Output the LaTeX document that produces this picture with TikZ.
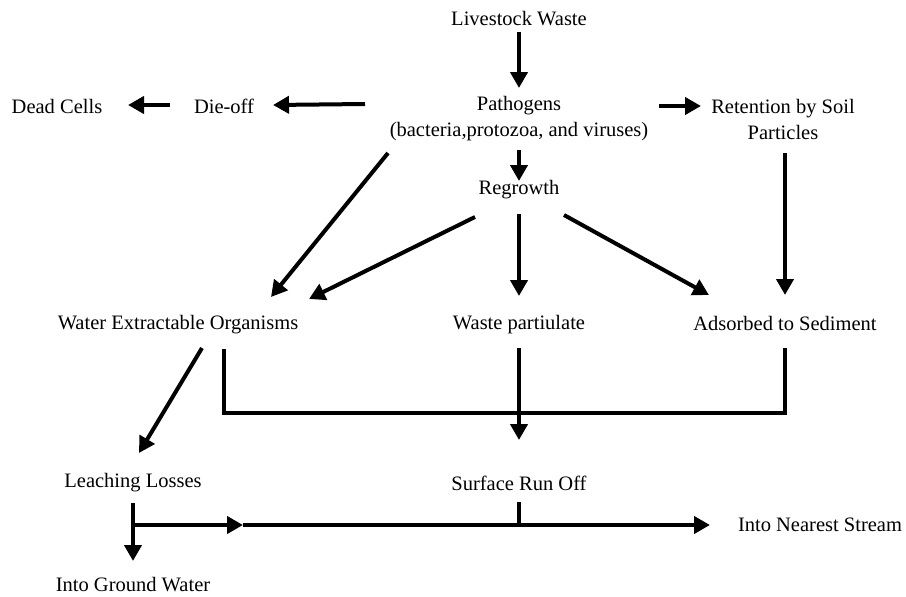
\documentclass[tikz,border=0pt]{standalone}
\usepackage{fontspec}
\setmainfont{Liberation Serif}
\usetikzlibrary{arrows.meta,calc}
\tikzset{
  lbl/.style={inner sep=0pt, font=\fontsize{20.5}{26}\selectfont, align=center},
  arr/.style={line width=4pt, -{Triangle[length=16pt,width=17pt]}},
  ln/.style={line width=4pt},
}
\begin{document}
\begin{tikzpicture}[x=1pt,y=-1pt]
\useasboundingbox (0,0) rectangle (906,597);
\node[lbl] (lw) at (519,19) {Livestock Waste};
\node[lbl] (path) at (519,119) {Pathogens\\(bacteria,protozoa, and viruses)};
\node[lbl] (ret) at (783,119) {Retention by Soil\\Particles};
\node[lbl] (dieoff) at (224,106) {Die-off};
\node[lbl] (dead) at (57,106) {Dead Cells};
\node[lbl] (regrowth) at (519,190) {Regrowth};
\node[lbl] (weo) at (178,325) {Water Extractable Organisms};
\node[lbl] (waste) at (519,325) {Waste partiulate};
\node[lbl] (ads) at (785,323) {Adsorbed to Sediment};
\node[lbl] (leach) at (133,483) {Leaching Losses};
\node[lbl] (sro) at (519,483) {Surface Run Off};
\node[lbl] (stream) at (820,525) {Into Nearest Stream};
\node[lbl] (ground) at (133,585) {Into Ground Water};

\draw[arr] ($(lw)+(0,13)$) -- ($(path)+(0,-31)$);
\draw[arr] ($(path)+(140,-13)$) -- ($(ret)+(-82,-13)$);
\draw[arr] ($(path)+(-154,-15)$) -- ($(dieoff)+(49,-1)$);
\draw[arr] ($(dieoff)+(-54,-1)$) -- ($(dead)+(71,-1)$);
\draw[arr] ($(path)+(0,31)$) -- ($(regrowth)+(0,-9)$);
\draw[arr] ($(path)+(-131,34)$) -- ($(weo)+(93,-28)$);
\draw[arr] ($(regrowth)+(-44,27)$) -- ($(weo)+(131,-26)$);
\draw[arr] ($(regrowth)+(0,24)$) -- ($(waste)+(0,-29)$);
\draw[arr] ($(regrowth)+(45,25)$) -- ($(ads)+(-76,-28)$);
\draw[arr] ($(ret)+(2,34)$) -- ($(ads)+(0,-28)$);
\draw[arr] ($(weo)+(24,23)$) -- ($(leach)+(6,-30)$);
\draw[ln] ($(weo)+(46,24)$) -- ++(0,64) -| ($(ads)+(0,25)$);
\draw[arr] ($(waste)+(0,23)$) -- ($(sro)+(0,-43)$);
\draw[arr] ($(leach)+(0,20)$) -- ($(ground)+(0,-24)$);
\coordinate (hstart) at ($(leach)+(0,42)$);
\coordinate (hmid) at ($(leach)+(110,42)$);
\draw[arr] (hstart) -- (hmid);
\draw[arr] (hmid) -- ($(stream)+(-110,0)$);
\draw[ln] ($(sro)+(0,19)$) -- ($(sro)+(0,42)$);
\end{tikzpicture}
\end{document}
